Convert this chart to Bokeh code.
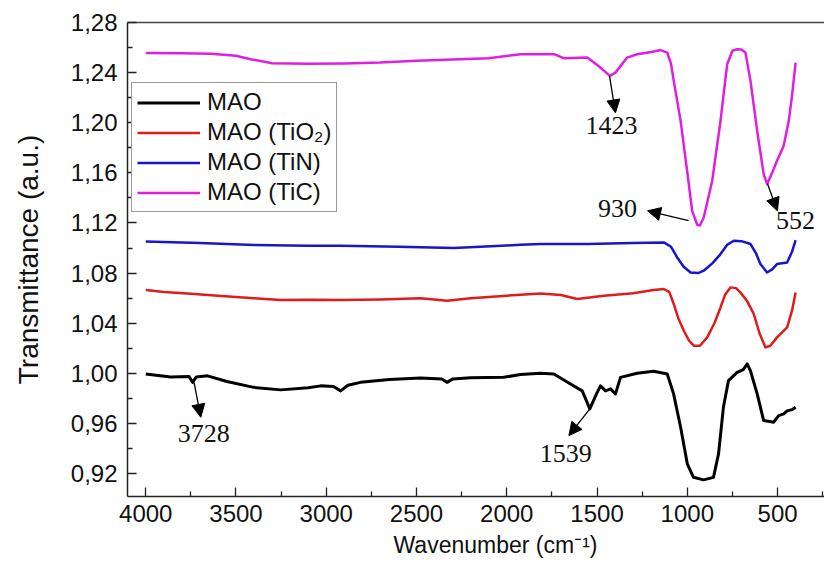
from bokeh.plotting import figure
from bokeh.models import (Range1d, FixedTicker, CustomJSTickFormatter, LinearAxis,
                          Legend, LegendItem, Arrow, NormalHead, Label, Title)
from bokeh.embed import file_html
from bokeh.resources import INLINE

# ---------------- data ----------------
wn_mao = [4000, 3862, 3760, 3741, 3720, 3658, 3550, 3402, 3252, 3100, 3031, 2960, 2920, 2880,
          2810, 2650, 2477, 2360, 2330, 2300, 2200, 2017, 1924, 1813, 1739, 1647, 1582, 1540,
          1503, 1481, 1453, 1425, 1398, 1370, 1278, 1187, 1111, 1076, 1037, 1000, 966, 910,
          855, 827, 800, 772, 724, 690, 668, 650, 613, 577, 521, 494, 466, 447, 420, 400]
t_mao = [0.9995, 0.997, 0.9975, 0.9928, 0.997, 0.998, 0.9935, 0.9888, 0.9868, 0.9885, 0.990,
         0.9895, 0.986, 0.9905, 0.9928, 0.995, 0.9963, 0.9955, 0.9928, 0.9955, 0.9965, 0.9968,
         0.999, 1.000, 0.9995, 0.9915, 0.986, 0.9716, 0.9836, 0.990, 0.986, 0.9876, 0.9836,
         0.9968, 1.000, 1.0016, 0.9995, 0.9836, 0.957, 0.9278, 0.917, 0.915, 0.917, 0.9357,
         0.9729, 0.9942, 1.0008, 1.003, 1.0075, 1.002, 0.9836, 0.9623, 0.961, 0.9663, 0.9676,
         0.970, 0.971, 0.9729]

wn_tio2 = [4000, 3900, 3769, 3600, 3400, 3252, 3100, 2920, 2700, 2477, 2330, 2200, 2000, 1924,
           1813, 1700, 1610, 1462, 1300, 1187, 1130, 1100, 1075, 1050, 1019, 990, 964, 930,
           890, 850, 816, 790, 761, 730, 706, 670, 632, 600, 567, 540, 503, 447, 420, 400]
t_tio2 = [1.0665, 1.065, 1.0638, 1.062, 1.060, 1.0585, 1.0588, 1.0585, 1.059, 1.060, 1.058,
          1.060, 1.062, 1.0628, 1.0638, 1.0625, 1.0593, 1.062, 1.064, 1.0665, 1.0673, 1.065,
          1.0553, 1.044, 1.034, 1.026, 1.0221, 1.022, 1.0287, 1.040, 1.0526, 1.063, 1.0686,
          1.068, 1.0646, 1.058, 1.0474, 1.032, 1.0207, 1.022, 1.0287, 1.0367, 1.050, 1.0646]

wn_tin = [4000, 3700, 3400, 3100, 2920, 2600, 2294, 2000, 1924, 1813, 1554, 1300, 1130, 1090,
          1056, 1020, 982, 940, 909, 860, 816, 780, 742, 700, 650, 620, 595, 558, 530, 503,
          447, 420, 400]
t_tin = [1.1053, 1.104, 1.1025, 1.1018, 1.1018, 1.101, 1.100, 1.102, 1.1026, 1.1032, 1.1032,
         1.104, 1.1045, 1.101, 1.0925, 1.085, 1.0805, 1.080, 1.0819, 1.088, 1.0952, 1.1025,
         1.1058, 1.1055, 1.1032, 1.096, 1.0872, 1.0805, 1.083, 1.0872, 1.0885, 1.097, 1.1064]

wn_tic = [4000, 3800, 3640, 3500, 3419, 3300, 3100, 2900, 2700, 2500, 2300, 2100, 1924, 1739,
          1684, 1554, 1481, 1429, 1398, 1333, 1278, 1200, 1148, 1111, 1090, 1075, 1037, 1001,
          973, 945, 930, 909, 862, 816, 779, 750, 724, 700, 678, 650, 613, 577, 558, 530, 503,
          466, 438, 420, 400]
t_tic = [1.2557, 1.2555, 1.255, 1.2535, 1.2507, 1.2475, 1.247, 1.2472, 1.248, 1.2495, 1.2505,
         1.2515, 1.2547, 1.2547, 1.2515, 1.252, 1.244, 1.2374, 1.240, 1.252, 1.2547, 1.2565,
         1.258, 1.256, 1.247, 1.2334, 1.2015, 1.1616, 1.1297, 1.1186, 1.118, 1.1244, 1.1537,
         1.2015, 1.2467, 1.2575, 1.2587, 1.2585, 1.256, 1.2334, 1.1935, 1.159, 1.151, 1.160,
         1.1696, 1.1816, 1.2015, 1.2215, 1.248]

series_names = ["MAO", "MAO (TiO\u2082)", "MAO (TiN)", "MAO (TiC)"]
x_ticks = [4000, 3500, 3000, 2500, 2000, 1500, 1000, 500]
x_minor = [3750, 3250, 2750, 2250, 1750, 1250, 750, 250]
y_ticks = [0.92, 0.96, 1.00, 1.04, 1.08, 1.12, 1.16, 1.20, 1.24, 1.28]
y_minor = [0.90, 0.94, 0.98, 1.02, 1.06, 1.10, 1.14, 1.18, 1.22, 1.26]

peak_labels = ["3728", "1539", "1423", "930", "552"]

# ---------------- figure ----------------
p = figure(width=824, height=583, output_backend="svg", toolbar_location=None,
           x_range=Range1d(4101, 240), y_range=Range1d(0.9017, 1.28),
           min_border_left=127, min_border_right=0, min_border_top=22, min_border_bottom=87)
p.grid.visible = False
p.outline_line_color = None

AX = "#222222"
SANS = "Liberation Sans"

for ax in (p.xaxis[0], p.yaxis[0]):
    ax.axis_line_color = AX
    ax.axis_line_width = 1.5
    ax.major_tick_line_color = AX
    ax.minor_tick_line_color = AX
    ax.major_tick_line_width = 1.3
    ax.minor_tick_line_width = 1.3
    ax.major_tick_in = 9
    ax.major_tick_out = 0
    ax.minor_tick_in = 5
    ax.minor_tick_out = 0
    ax.major_label_text_font = SANS
    ax.major_label_text_font_size = "24px"
    ax.major_label_text_color = "#111111"

p.xaxis.ticker = FixedTicker(ticks=x_ticks, minor_ticks=x_minor)
p.xaxis.major_label_standoff = 8
p.yaxis.ticker = FixedTicker(ticks=y_ticks, minor_ticks=y_minor)
p.yaxis.formatter = CustomJSTickFormatter(code="return tick.toFixed(2).replace('.', ',');")
p.yaxis.major_label_standoff = 10
p.yaxis.axis_label = "Transmittance (a.u.)"
p.yaxis.axis_label_text_font = SANS
p.yaxis.axis_label_text_font_size = "28px"
p.yaxis.axis_label_text_font_style = "normal"
p.yaxis.axis_label_text_color = "#111111"
p.yaxis.axis_label_standoff = 24

top = LinearAxis(ticker=FixedTicker(ticks=[]), major_label_text_font_size="0px",
                 major_tick_in=0, major_tick_out=0, minor_tick_in=0, minor_tick_out=0,
                 axis_line_color="#444444", axis_line_width=1.5)
p.add_layout(top, "above")

# x-axis title, placed a little right of the frame centre as in the reference
p.add_layout(Title(text="Wavenumber (cm\u207b\u00b9)", align="left", offset=266,
                   text_font=SANS, text_font_size="23px", text_font_style="normal",
                   text_color="#111111", standoff=11), "below")

# ---------------- curves ----------------
colors = ["#000000", "#e01b1b", "#1616cc", "#e01ee0"]
widths = [3, 2.5, 2.5, 2.5]
xs = [wn_mao, wn_tio2, wn_tin, wn_tic]
ys = [t_mao, t_tio2, t_tin, t_tic]
rends = []
for x, y, c, w in zip(xs, ys, colors, widths):
    rends.append(p.line(x, y, line_color=c, line_width=w, line_join="round"))

legend = Legend(items=[LegendItem(label=n, renderers=[r]) for n, r in zip(series_names, rends)],
                location=(4, 284), glyph_width=63, glyph_height=27, label_height=27,
                label_standoff=7, spacing=2, padding=5, margin=0,
                label_text_font=SANS, label_text_font_size="24px", label_text_color="#111111",
                border_line_color="#333333", border_line_width=1.2,
                background_fill_alpha=1.0)
p.add_layout(legend)

# ---------------- peak annotations ----------------
arrow_tails = [(3736, 0.9955), (1540, 0.9716), (1431, 1.2374), (993, 1.1218), (556, 1.1513)]
arrow_heads = [(3695, 0.9649), (1656, 0.9503), (1398, 1.2079), (1220, 1.1297), (501, 1.1297)]
label_pos = [(3679, 0.9519), (1674, 0.9360), (1420, 1.1975), (1386, 1.1313), (401, 1.1218)]

for (x0, y0), (x1, y1) in zip(arrow_tails, arrow_heads):
    p.add_layout(Arrow(x_start=x0, y_start=y0, x_end=x1, y_end=y1, line_color="black",
                       line_width=1.3,
                       end=NormalHead(size=13, fill_color="black", line_color="black")))
for txt, (lx, ly) in zip(peak_labels, label_pos):
    p.add_layout(Label(x=lx, y=ly, text=txt, text_font="Liberation Serif",
                       text_font_size="26px", text_align="center", text_baseline="middle",
                       text_color="#111111"))

open("out.html", "w").write(file_html(p, INLINE))
